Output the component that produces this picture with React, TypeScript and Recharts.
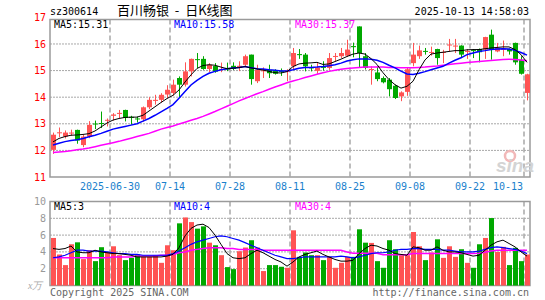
import React from 'react'
import { ComposedChart, Bar, Line, XAxis, YAxis, CartesianGrid, ReferenceArea, Cell } from 'recharts'

const DATES = [
  '2025-06-16', '2025-06-17', '2025-06-18', '2025-06-19', '2025-06-20', '2025-06-23', '2025-06-24', '2025-06-25', '2025-06-26', '2025-06-27',
  '2025-06-30', '2025-07-01', '2025-07-02', '2025-07-03', '2025-07-04', '2025-07-07', '2025-07-08', '2025-07-09', '2025-07-10', '2025-07-11',
  '2025-07-14', '2025-07-15', '2025-07-16', '2025-07-17', '2025-07-18', '2025-07-21', '2025-07-22', '2025-07-23', '2025-07-24', '2025-07-25',
  '2025-07-28', '2025-07-29', '2025-07-30', '2025-07-31', '2025-08-01', '2025-08-04', '2025-08-05', '2025-08-06', '2025-08-07', '2025-08-08',
  '2025-08-11', '2025-08-12', '2025-08-13', '2025-08-14', '2025-08-15', '2025-08-18', '2025-08-19', '2025-08-20', '2025-08-21', '2025-08-22',
  '2025-08-25', '2025-08-26', '2025-08-27', '2025-08-28', '2025-08-29', '2025-09-01', '2025-09-02', '2025-09-03', '2025-09-04', '2025-09-05',
  '2025-09-08', '2025-09-09', '2025-09-10', '2025-09-11', '2025-09-12', '2025-09-15', '2025-09-16', '2025-09-17', '2025-09-18', '2025-09-19',
  '2025-09-22', '2025-09-23', '2025-09-24', '2025-09-25', '2025-09-26', '2025-09-29', '2025-09-30', '2025-10-09', '2025-10-10', '2025-10-13',
]

const OPEN = [
  12.02, 12.65, 12.52, 12.64, 12.77, 12.2, 12.52, 13.01, 13.03, 13.12,
  13.3, 13.37, 13.52, 13.26, 13.2, 13.17, 13.62, 13.86, 13.9, 14.1,
  14.16, 14.72, 14.47, 14.97, 15.43, 15.44, 15.06, 15.17, 15.04, 15.1,
  15.18, 15.1, 15.22, 15.6, 14.6, 14.99, 15.03, 15.0, 15.0, 14.95,
  15.16, 15.62, 15.6, 15.12, 14.99, 15.14, 15.1, 15.52, 15.54, 15.56,
  15.92, 16.66, 15.54, 15.03, 14.93, 14.72, 14.66, 14.43, 14.03, 14.2,
  15.28, 15.54, 15.74, 15.67, 15.81, 15.68, 15.95, 15.92, 15.94, 15.7,
  15.77, 15.81, 15.79, 16.35, 15.72, 15.79, 15.81, 16.04, 15.41, 14.16,
]
const CLOSE = [
  12.59, 12.68, 12.67, 12.67, 12.37, 12.52, 12.96, 12.99, 13.01, 13.15,
  13.35, 13.41, 13.22, 13.23, 13.17, 13.62, 13.9, 13.9, 14.09, 14.28,
  14.47, 14.47, 14.97, 15.44, 15.41, 15.06, 15.22, 14.96, 15.06, 15.04,
  15.06, 15.18, 15.54, 14.68, 15.03, 15.01, 14.9, 14.88, 14.95, 15.0,
  15.66, 15.58, 15.16, 15.09, 15.12, 15.12, 15.47, 15.55, 15.66, 15.79,
  15.88, 15.66, 15.1, 15.06, 14.68, 14.56, 14.3, 13.97, 14.18, 15.05,
  15.6, 15.76, 15.71, 15.7, 15.47, 15.7, 15.98, 15.94, 15.6, 15.74,
  15.74, 15.69, 16.26, 15.79, 15.85, 15.82, 15.72, 15.31, 14.88, 14.86,
]
const HIGH = [
  12.67, 12.86, 12.75, 12.78, 12.78, 12.6, 13.1, 13.12, 13.46, 13.2,
  13.4, 13.52, 13.53, 13.3, 13.27, 13.65, 14.0, 14.09, 14.15, 14.45,
  14.66, 14.78, 15.31, 15.45, 15.66, 15.54, 15.28, 15.28, 15.3, 15.3,
  15.31, 15.35, 15.6, 15.6, 15.22, 15.12, 15.22, 15.05, 15.08, 15.05,
  15.85, 15.81, 15.66, 15.22, 15.28, 15.35, 15.66, 15.66, 15.85, 16.16,
  16.05, 16.66, 15.66, 15.16, 15.16, 14.78, 14.72, 14.47, 14.22, 15.1,
  16.04, 15.94, 15.85, 15.9, 15.82, 15.78, 16.19, 16.19, 15.95, 15.81,
  15.81, 15.83, 16.27, 16.54, 16.04, 16.13, 15.83, 16.05, 15.54, 14.88,
]
const LOW = [
  11.87, 12.5, 12.45, 12.55, 12.25, 12.12, 12.46, 12.8, 12.84, 12.9,
  13.12, 13.21, 13.09, 12.97, 13.05, 13.08, 13.55, 13.72, 13.8, 13.96,
  14.06, 13.97, 14.4, 14.78, 15.1, 15.03, 14.94, 14.92, 14.94, 14.98,
  15.02, 14.98, 15.16, 14.47, 14.53, 14.72, 14.72, 14.85, 14.8, 14.6,
  15.04, 15.44, 14.97, 14.97, 14.88, 15.0, 15.03, 15.35, 15.47, 15.52,
  15.5, 15.1, 15.04, 14.47, 14.6, 14.52, 14.03, 13.93, 13.85, 14.05,
  15.16, 15.44, 15.6, 15.56, 15.22, 15.28, 15.72, 15.66, 15.47, 15.44,
  15.47, 15.31, 15.44, 15.41, 15.69, 15.54, 15.6, 15.22, 14.85, 13.88,
]

const MA5 = [
  12.32, 12.45, 12.52, 12.57, 12.58, 12.6, 12.63, 12.73, 12.88, 13.03,
  13.14, 13.2, 13.24, 13.25, 13.25, 13.32, 13.48, 13.64, 13.8, 13.95,
  14.07, 14.27, 14.57, 14.84, 15.08, 15.19, 15.22, 15.2, 15.13, 15.07,
  15.09, 15.11, 15.15, 15.1, 15.06, 15.02, 14.97, 14.92, 14.91, 14.96,
  15.15, 15.25, 15.28, 15.29, 15.31, 15.23, 15.25, 15.34, 15.43, 15.53,
  15.62, 15.66, 15.62, 15.45, 15.23, 14.92, 14.66, 14.47, 14.34, 14.41,
  14.6, 15.03, 15.4, 15.62, 15.66, 15.69, 15.72, 15.75, 15.75, 15.78,
  15.79, 15.79, 15.82, 15.85, 15.87, 15.89, 15.89, 15.79, 15.6, 15.31,
]
const MA10 = [
  12.2, 12.27, 12.33, 12.37, 12.4, 12.45, 12.51, 12.57, 12.64, 12.72,
  12.8, 12.85, 12.9, 12.95, 13.0, 13.1, 13.2, 13.32, 13.45, 13.58,
  13.72, 13.96, 14.21, 14.46, 14.63, 14.78, 14.9, 14.97, 15.03, 15.07,
  15.1, 15.12, 15.15, 15.11, 15.07, 15.06, 15.03, 15.01, 14.98, 14.98,
  15.03, 15.09, 15.12, 15.12, 15.13, 15.15, 15.18, 15.22, 15.28, 15.36,
  15.41, 15.44, 15.44, 15.43, 15.39, 15.31, 15.2, 15.1, 14.98, 14.87,
  14.85, 14.9, 14.96, 15.03, 15.1, 15.16, 15.28, 15.39, 15.48, 15.6,
  15.66, 15.72, 15.75, 15.79, 15.81, 15.82, 15.81, 15.76, 15.68, 15.58,
]
const MA30 = [
  11.92, 11.94, 11.96, 11.99, 12.02, 12.05, 12.09, 12.14, 12.19, 12.24,
  12.29, 12.34, 12.4, 12.46, 12.52, 12.58, 12.64, 12.72, 12.8, 12.86,
  12.92, 12.99, 13.06, 13.13, 13.2, 13.28, 13.37, 13.46, 13.56, 13.66,
  13.76, 13.86, 13.95, 14.04, 14.13, 14.21, 14.3, 14.38, 14.46, 14.54,
  14.61, 14.67, 14.74, 14.8, 14.86, 14.92, 14.97, 15.01, 15.05, 15.08,
  15.1, 15.12, 15.13, 15.13, 15.13, 15.13, 15.12, 15.12, 15.11, 15.11,
  15.11, 15.12, 15.13, 15.15, 15.17, 15.2, 15.23, 15.26, 15.28, 15.3,
  15.32, 15.34, 15.36, 15.38, 15.4, 15.42, 15.43, 15.42, 15.4, 15.37,
]

// volume, 万手
const VOL = [
  5.66, 3.69, 2.43, 4.91, 5.14, 3.14, 4.2, 2.9, 4.56, 4.0,
  4.67, 3.61, 3.02, 3.29, 3.69, 3.41, 3.41, 3.61, 2.7, 4.79,
  4.2, 7.4, 8.1, 7.55, 6.77, 7.04, 5.1, 4.79, 3.61, 2.19,
  1.95, 4.08, 4.52, 5.39, 4.52, 1.72, 2.43, 2.43, 2.23, 2.11,
  6.57, 3.41, 3.93, 3.61, 3.61, 3.02, 3.41, 2.11, 2.7, 3.41,
  3.41, 6.69, 5.1, 5.07, 2.9, 2.11, 5.39, 4.32, 3.61, 3.61,
  6.37, 4.67, 3.02, 3.93, 5.5, 3.29, 4.67, 3.41, 4.32, 2.7,
  2.11, 4.91, 5.66, 8.03, 4.0, 4.6, 2.43, 4.48, 2.9, 3.69,
]
const VOL_MA5 = [
  4.4, 4.3, 4.4, 4.7, 4.0, 3.9, 3.9, 4.2, 4.0, 3.9,
  3.8, 3.8, 3.7, 3.6, 3.4, 3.4, 3.4, 3.4, 3.4, 3.5,
  3.7, 4.5, 5.9, 6.8, 7.2, 7.3, 6.9, 6.0, 4.9, 3.8,
  3.3, 3.2, 3.3, 3.8, 4.2, 3.9, 3.5, 3.1, 2.8, 2.3,
  2.8, 3.4, 3.7, 3.9, 4.1, 3.7, 3.4, 3.1, 2.9, 2.9,
  3.0, 3.8, 4.4, 4.8, 4.7, 4.4, 4.2, 3.8, 3.7, 3.6,
  4.6, 4.5, 4.2, 4.2, 4.6, 4.2, 4.0, 4.0, 3.9, 3.7,
  3.5, 3.6, 4.2, 4.8, 5.2, 5.4, 5.0, 4.6, 4.0, 3.5,
]
const VOL_MA10 = [
  3.3, 3.4, 3.6, 3.9, 4.2, 4.2, 4.1, 4.1, 4.1, 4.0,
  3.9, 3.8, 3.8, 3.7, 3.7, 3.6, 3.6, 3.6, 3.6, 3.6,
  3.8, 4.1, 4.5, 4.9, 5.2, 5.4, 5.6, 5.8, 5.9, 5.8,
  5.6, 5.4, 5.1, 4.8, 4.5, 4.2, 3.9, 3.6, 3.4, 3.2,
  3.2, 3.3, 3.4, 3.4, 3.4, 3.4, 3.4, 3.4, 3.5, 3.4,
  3.3, 3.4, 3.6, 3.8, 3.9, 3.9, 4.0, 4.2, 4.3, 4.3,
  4.4, 4.4, 4.3, 4.3, 4.3, 4.2, 4.2, 4.1, 4.0, 4.0,
  4.0, 4.1, 4.3, 4.5, 4.6, 4.5, 4.4, 4.3, 4.1, 3.8,
]
const VOL_MA30 = [
  3.3, 3.3, 3.3, 3.3, 3.3, 3.3, 3.3, 3.3, 3.3, 3.3,
  3.4, 3.4, 3.4, 3.4, 3.5, 3.5, 3.5, 3.5, 3.6, 3.6,
  3.7, 3.9, 4.0, 4.2, 4.3, 4.4, 4.5, 4.5, 4.5, 4.4,
  4.4, 4.3, 4.3, 4.3, 4.3, 4.2, 4.2, 4.2, 4.2, 4.2,
  4.2, 4.2, 4.2, 4.2, 4.2, 4.2, 4.2, 4.2, 4.2, 4.0,
  3.85, 3.85, 3.85, 3.85, 3.85, 3.65, 3.65, 3.65, 3.65, 3.65,
  3.8, 3.8, 3.8, 3.8, 3.8, 3.8, 3.8, 3.8, 3.8, 3.8,
  3.8, 3.85, 3.95, 4.1, 4.2, 4.2, 4.2, 4.2, 4.2, 4.2,
]

const TICK_DATES = ['2025-06-30', '2025-07-14', '2025-07-28', '2025-08-11', '2025-08-25', '2025-09-08', '2025-09-22', '2025-10-13']
const TICK_LABELS = ['2025-06-30', '07-14', '07-28', '08-11', '08-25', '09-08', '09-22', '10-13']
const PRICE_TICKS = [11, 12, 13, 14, 15, 16, 17]
const PRICE_GRID = [12, 13, 14, 15, 16]
const VOL_TICKS = [2, 4, 6, 8, 10]
const VOL_GRID = [2, 4, 6, 8]

const MONO = '"DejaVu Sans Mono", monospace'
const RED = '#ff5353'
const GREEN = '#00a800'
const FRAME = '#9a9a9a'
const GRID = '#a8a8a8'

const PRICE_MIN = 11
const PRICE_MAX = 16.92

const XTICKS = TICK_DATES.map((d) => DATES.indexOf(d))

const data = DATES.map((date, i) => ({
  x: i + 0.5,
  date,
  open: OPEN[i],
  close: CLOSE[i],
  high: HIGH[i],
  low: LOW[i],
  ma5: MA5[i],
  ma10: MA10[i],
  ma30: MA30[i],
  vol: VOL[i],
  vma5: VOL_MA5[i],
  vma10: VOL_MA10[i],
  vma30: VOL_MA30[i],
}))

function Candle(props: any) {
  const { x, y, width, height, payload } = props
  const { open, close, high, low } = payload
  const color = close >= open ? RED : GREEN
  const top = Math.min(y, y + height)
  const h = Math.abs(height)
  const ppu = high > low ? h / (high - low) : 0
  const bTop = top + (high - Math.max(open, close)) * ppu
  const bBot = top + (high - Math.min(open, close)) * ppu
  const cx = Math.floor(x + width / 2) + 0.5
  return (
    <g>
      <line x1={cx} x2={cx} y1={top} y2={top + h} stroke={color} strokeWidth={1} />
      <rect x={x} y={bTop} width={width} height={Math.max(1, bBot - bTop)} fill={color} />
    </g>
  )
}

function DateTick({ x, y, payload }: any) {
  const i = XTICKS.indexOf(payload.value)
  const last = i === XTICKS.length - 1
  return (
    <text
      x={last ? x - 1 : x}
      y={y + 13}
      textAnchor={last ? 'end' : 'middle'}
      fill="#1a7fcc"
      fontSize={10}
      fontFamily={MONO}
    >
      {TICK_LABELS[i]}
    </text>
  )
}

export default function App() {
  return (
    <div style={{ position: 'absolute', left: 0, top: 0, width: 545, height: 300, background: '#fff', overflow: 'hidden' }}>
      <div style={{ position: 'absolute', left: 0, top: 0 }}>
        <ComposedChart width={545} height={200} data={data} margin={{ top: 19.5, right: 15, bottom: 3, left: 0 }}>
          <CartesianGrid vertical={false} horizontalValues={PRICE_GRID} stroke={GRID} strokeDasharray="2 1" />
          <CartesianGrid horizontal={false} verticalValues={XTICKS} stroke={GRID} strokeWidth={1.5} strokeDasharray="5 3" />
          <XAxis
            type="number"
            dataKey="x"
            domain={[0, DATES.length]}
            ticks={XTICKS}
            tick={<DateTick />}
            tickLine={false}
            axisLine={false}
            tickSize={0}
            tickMargin={0}
            height={20}
            interval={0}
          />
          <YAxis
            type="number"
            domain={[PRICE_MIN, PRICE_MAX]}
            allowDataOverflow
            ticks={PRICE_TICKS}
            width={50}
            tickLine={false}
            axisLine={false}
            tickSize={0}
            tickMargin={4}
            interval={0}
            tick={{ fill: '#ff0000', fontSize: 10, fontFamily: MONO }}
          />
          <ReferenceArea x1={0} x2={DATES.length} y1={PRICE_MIN} y2={PRICE_MAX} fill="none" stroke={FRAME} strokeWidth={1.5} />
          <Bar dataKey={(d: any) => [d.low, d.high]} barSize={5} shape={<Candle />} isAnimationActive={false} />
          <Line type="linear" dataKey="ma30" stroke="#ff00ff" strokeWidth={1.5} dot={false} activeDot={false} isAnimationActive={false} />
          <Line type="linear" dataKey="ma10" stroke="#0000ff" strokeWidth={1.5} dot={false} activeDot={false} isAnimationActive={false} />
          <Line type="linear" dataKey="ma5" stroke="#000000" strokeWidth={1} dot={false} activeDot={false} isAnimationActive={false} />
        </ComposedChart>
      </div>

      <div style={{ position: 'absolute', left: 0, top: 0 }}>
        <ComposedChart width={545} height={300} data={data} margin={{ top: 201.5, right: 15, bottom: 14.5, left: 0 }}>
          <CartesianGrid vertical={false} horizontalValues={VOL_GRID} stroke={GRID} strokeDasharray="2 1" />
          <CartesianGrid horizontal={false} verticalValues={XTICKS} stroke={GRID} strokeWidth={1.5} strokeDasharray="5 3" />
          <XAxis type="number" dataKey="x" domain={[0, DATES.length]} ticks={XTICKS} hide />
          <YAxis
            type="number"
            domain={[0, 10]}
            ticks={VOL_TICKS}
            width={50}
            tickLine={false}
            axisLine={false}
            tickSize={0}
            tickMargin={4}
            interval={0}
            tick={{ fill: '#999999', fontSize: 10, fontFamily: MONO }}
          />
          <ReferenceArea x1={0} x2={DATES.length} y1={0} y2={10} fill="none" stroke={FRAME} strokeWidth={1.5} />
          <Bar dataKey="vol" barSize={5} isAnimationActive={false}>
            {data.map((d, i) => (
              <Cell key={i} fill={d.close >= d.open ? RED : GREEN} />
            ))}
          </Bar>
          <Line type="linear" dataKey="vma30" stroke="#ff00ff" strokeWidth={1.5} dot={false} activeDot={false} isAnimationActive={false} />
          <Line type="linear" dataKey="vma10" stroke="#0000ff" strokeWidth={1.2} dot={false} activeDot={false} isAnimationActive={false} />
          <Line type="linear" dataKey="vma5" stroke="#000000" strokeWidth={1} dot={false} activeDot={false} isAnimationActive={false} />
        </ComposedChart>
      </div>

      <svg width={545} height={300} style={{ position: 'absolute', left: 0, top: 0, pointerEvents: 'none' }}>
        <text x={50} y={14.5} fontSize={10} fontFamily={MONO} fill="#000">sz300614</text>
        <text x={117} y={14.5} fontSize={13} fontFamily='"Noto Sans CJK SC", sans-serif' fill="#000" style={{ whiteSpace: 'pre' }}>
          百川畅银  -  日K线图
        </text>
        <text x={529} y={14.5} fontSize={10} fontFamily={MONO} fill="#000" textAnchor="end">2025-10-13 14:58:03</text>

        <text x={54} y={28} fontSize={10} fontFamily={MONO} fill="#000">MA5:15.31</text>
        <text x={174} y={28} fontSize={10} fontFamily={MONO} fill="#0000ff">MA10:15.58</text>
        <text x={295} y={28} fontSize={10} fontFamily={MONO} fill="#ff00ff">MA30:15.37</text>

        <text x={54} y={209.5} fontSize={10} fontFamily={MONO} fill="#000">MA5:3</text>
        <text x={174} y={209.5} fontSize={10} fontFamily={MONO} fill="#0000ff">MA10:4</text>
        <text x={295} y={209.5} fontSize={10} fontFamily={MONO} fill="#ff00ff">MA30:4</text>

        <text x={28} y={289} fontSize={10} fontFamily="serif" fontStyle="italic" fill="#aaa">x万</text>
        <text x={50} y={295.5} fontSize={10} fontFamily={MONO} fill="#666">Copyright 2025 SINA.COM</text>
        <text x={529} y={295.5} fontSize={10} fontFamily={MONO} fill="#666" textAnchor="end">http://finance.sina.com.cn</text>

        <circle cx={510} cy={156} r={5} fill="none" stroke="#f2b8b8" strokeWidth={2.5} />
        <text x={496} y={172} fontSize={19} fontWeight="bold" fontStyle="italic" fontFamily="Arial, sans-serif" fill="#d4d4d4">sina</text>
      </svg>
    </div>
  )
}
